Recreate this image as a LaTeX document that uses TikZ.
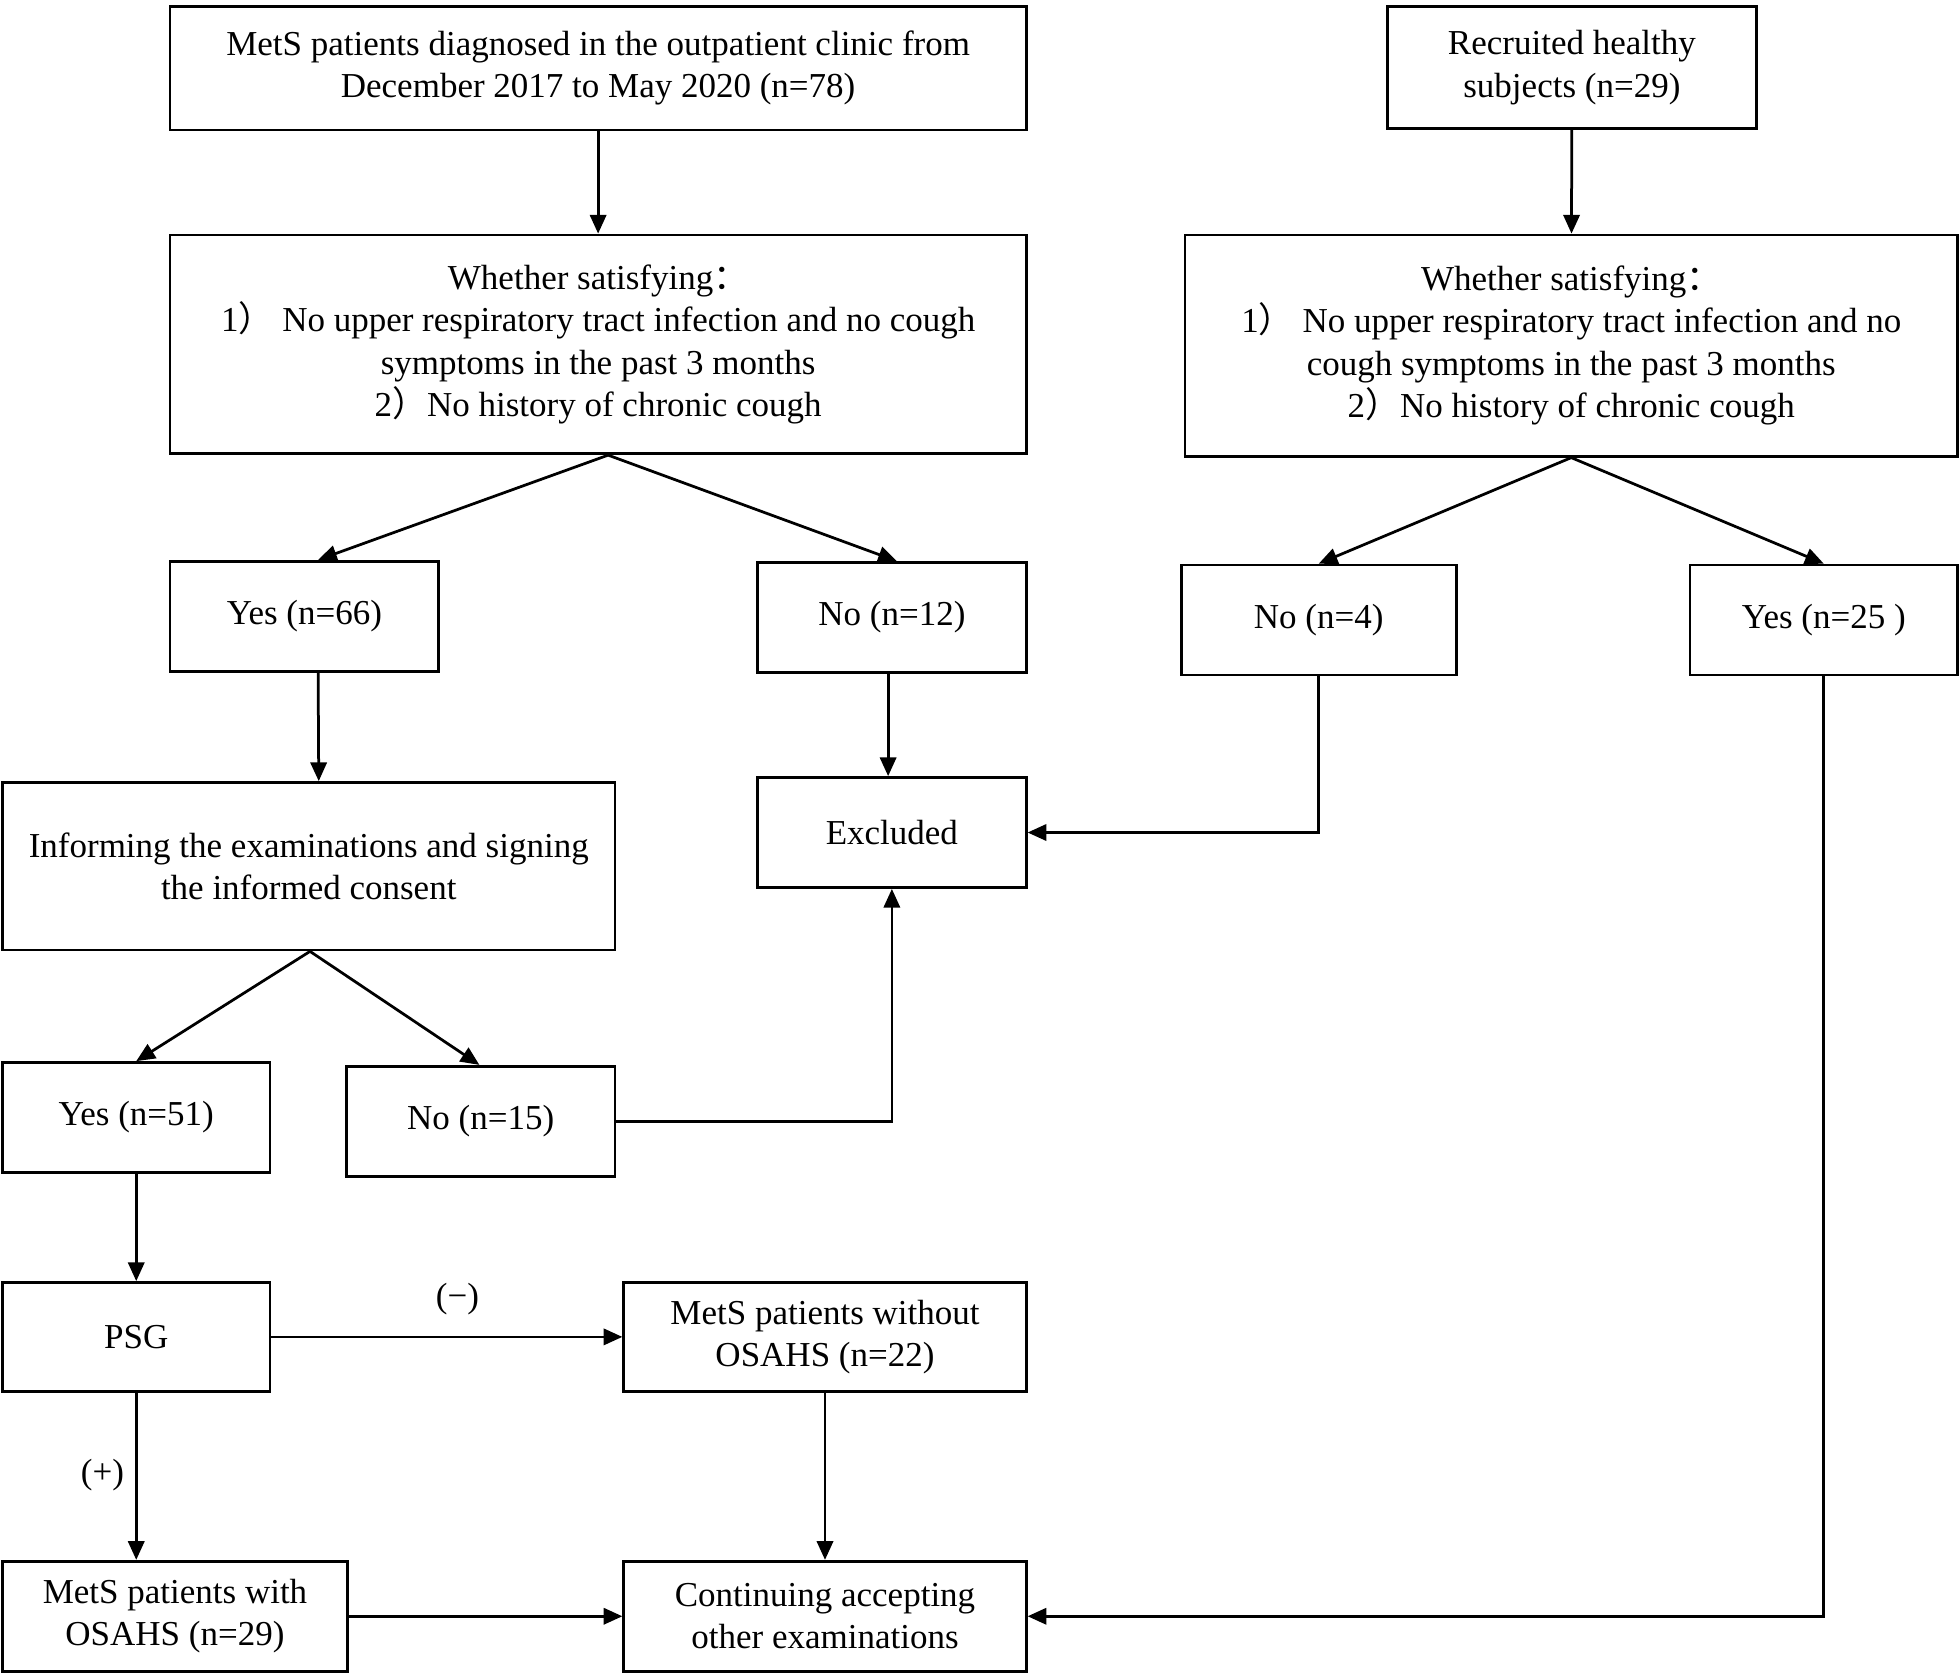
\documentclass[tikz,border=0pt]{standalone}
\usepackage{fontspec}
\setmainfont{Liberation Serif}
\newfontfamily\cjk{Noto Sans CJK SC}
\usetikzlibrary{arrows.meta,calc}
\newcommand{\fw}[1]{{\cjk #1}}
\tikzset{
  box/.style={draw, line width=1.1pt, align=center, inner sep=0pt},
  bx/.style 2 args={minimum width=#1*0.5pt, minimum height=#2*0.5pt},
  arr/.style={draw, line width=1.1pt, -{Triangle[length=7.5pt,width=6.5pt]}},
  lab/.style={font=\fontsize{14pt}{17pt}\selectfont}
}

\begin{document}
\begin{tikzpicture}[x=0.5pt, y=-0.5pt, line join=miter, every node/.style={lab}]
  \useasboundingbox (0,0) rectangle (1568,1339);
  % left branch
  \node[box, bx={685}{99}] (mets) at (478.5,54.5)
    {MetS patients diagnosed in the outpatient clinic from\\December 2017 to May 2020 (n=78)};
  \node[box, bx={685}{175}] (critL) at (478.5,275.5)
    {Whether satisfying\fw{：}\\1\fw{）} No upper respiratory tract infection and no cough\\symptoms in the past 3 months\\2\fw{）}No history of chronic cough};
  \node[box, bx={215}{88}] (yes66) at (243.5,493) {Yes (n=66)};
  \node[box, bx={215}{88}] (no12) at (713.5,494) {No (n=12)};
  \node[box, bx={490}{134}] (inform) at (247,693)
    {Informing the examinations and signing\\the informed consent};
  \node[box, bx={215}{88}] (excl) at (713.5,666) {Excluded};
  \node[box, bx={214}{88}] (yes51) at (109,894) {Yes (n=51)};
  \node[box, bx={215}{88}] (no15) at (384.5,897) {No (n=15)};
  \node[box, bx={214}{87}] (psg) at (109,1069.5) {PSG};
  \node[box, bx={322}{87}] (without) at (660,1069.5) {MetS patients without\\OSAHS (n=22)};
  \node[box, bx={276}{88}] (with) at (140,1293) {MetS patients with\\OSAHS (n=29)};
  \node[box, bx={322}{88}] (cont) at (660,1293) {Continuing accepting\\other examinations};
  % right branch
  \node[box, bx={295}{98}] (healthy) at (1257.5,54) {Recruited healthy\\subjects (n=29)};
  \node[box, bx={618}{177}] (critR) at (1257,276.5)
    {Whether satisfying\fw{：}\\1\fw{）} No upper respiratory tract infection and no\\cough symptoms in the past 3 months\\2\fw{）}No history of chronic cough};
  \node[box, bx={220}{88}] (no4) at (1055,496) {No (n=4)};
  \node[box, bx={214}{88}] (yes25) at (1459,496) {Yes (n=25 )};
  % connectors
  \coordinate (splitL) at ($(critL.south)+(8,0)$);
  \coordinate (splitI) at ($(inform.south)+(1,0)$);
  \draw[arr] (mets) -- (critL);
  \draw[arr] (healthy) -- (critR);
  \draw[arr] (splitL) -- ($(yes66.north)+(11,0)$);
  \draw[arr] (splitL) -- ($(no12.north)+(4,0)$);
  \draw[arr] (critR.south) -- (no4.north);
  \draw[arr] (critR.south) -- (yes25.north);
  \draw[arr] ($(yes66.south)+(11,0)$) -- ($(inform.north)+(8,0)$);
  \draw[arr] ($(no12.south)+(-3,0)$) -- ($(excl.north)+(-3,0)$);
  \draw[arr] (no4.south) |- (excl.east);
  \draw[arr] (yes25.south) |- (cont.east);
  \draw[arr] (splitI) -- (yes51.north);
  \draw[arr] (splitI) -- ($(no15.north)+(-1,0)$);
  \draw[arr] (no15.east) -| (excl.south);
  \draw[arr] (yes51) -- (psg);
  \draw[arr] (psg) -- node[above=5pt, pos=0.53] {(−)} (without);
  \draw[arr] (psg.south) -- node[left=1pt, pos=0.49] {(+)} (psg.south |- with.north);
  \draw[arr] (with) -- (cont);
  \draw[arr] (without) -- (cont);
\end{tikzpicture}
\end{document}
